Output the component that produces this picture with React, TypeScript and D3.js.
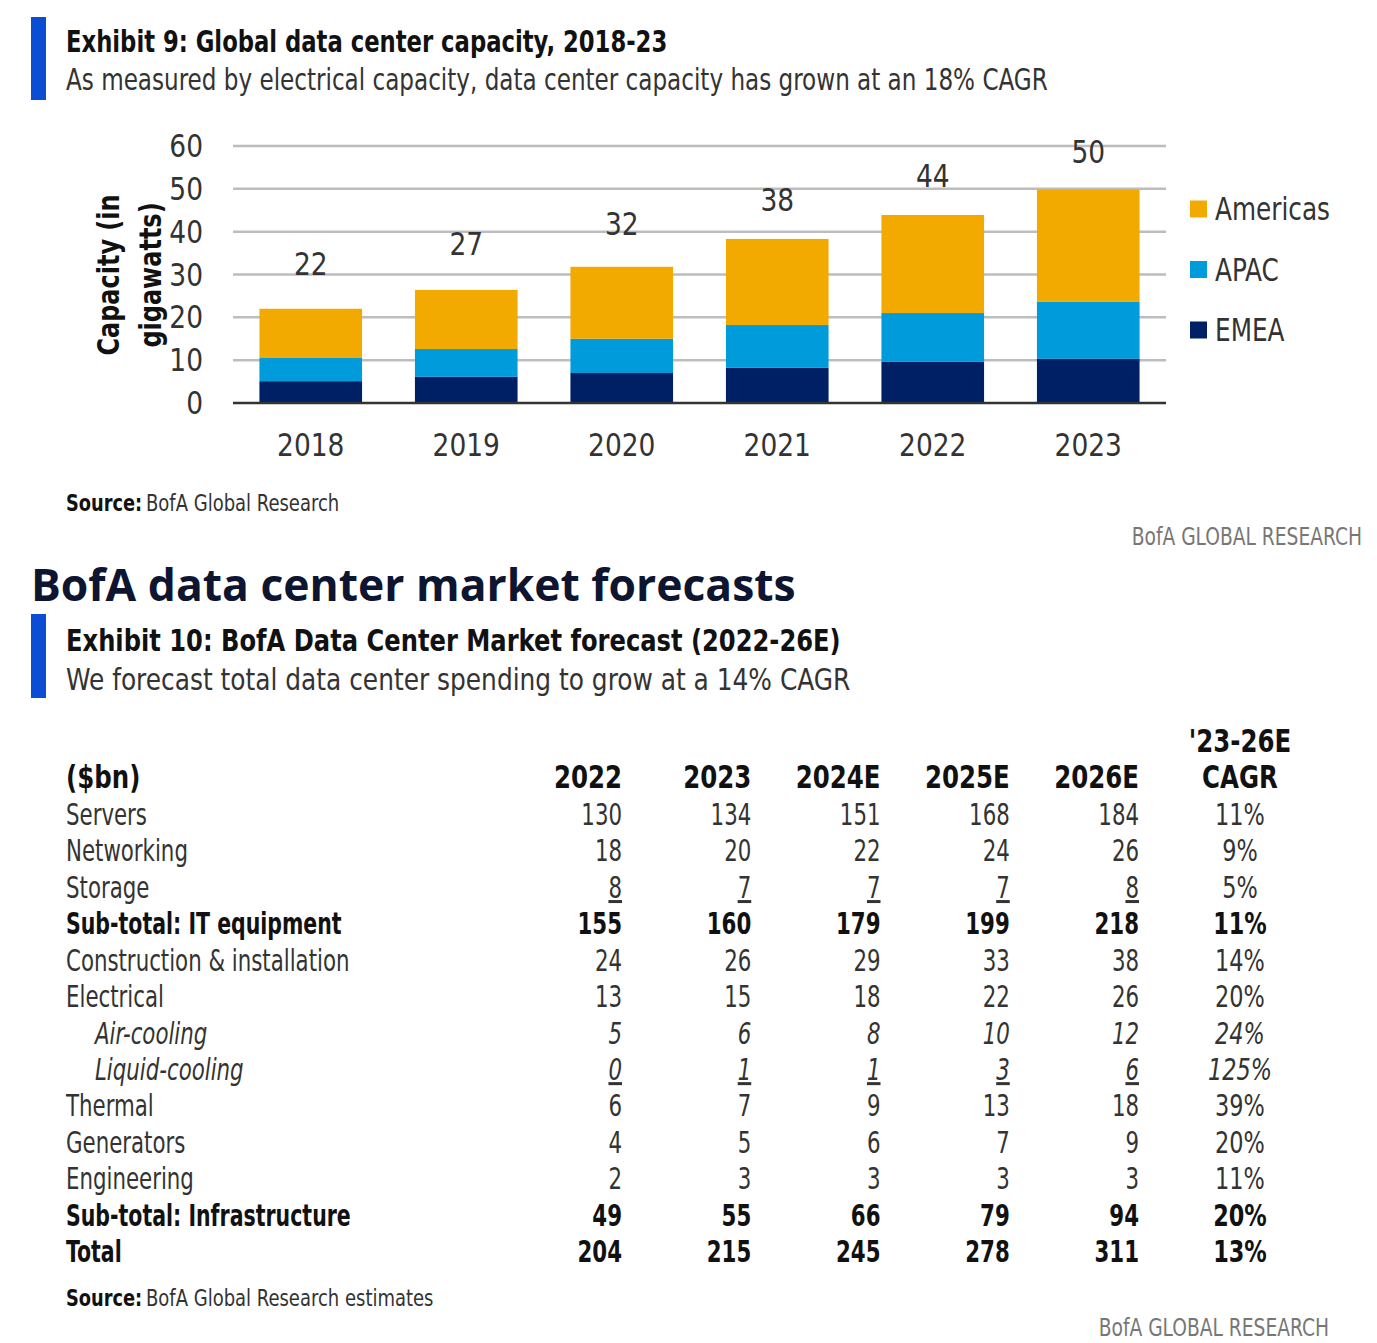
import * as d3 from "d3";

const W = 1377;
const H = 1343;

// ---- exhibit 9 data ----
const years = ["2018", "2019", "2020", "2021", "2022", "2023"];
const emea = [5.1, 6.1, 7.0, 8.2, 9.6, 10.3];
const apac = [5.4, 6.5, 8.0, 10.0, 11.4, 13.3];
const americas = [11.5, 13.8, 16.8, 20.1, 22.9, 26.2];
const totals = [22, 27, 32, 38, 44, 50];
const yTicks = [0, 10, 20, 30, 40, 50, 60];
const regions = ["EMEA", "APAC", "Americas"];
const legendOrder = ["Americas", "APAC", "EMEA"];

// ---- exhibit 10 data ----
const columns = ["2022", "2023", "2024E", "2025E", "2026E"];
const rowLabels = [
  "Servers",
  "Networking",
  "Storage",
  "Sub-total: IT equipment",
  "Construction & installation",
  "Electrical",
  "Air-cooling",
  "Liquid-cooling",
  "Thermal",
  "Generators",
  "Engineering",
  "Sub-total: Infrastructure",
  "Total",
];
const v2022 = [130, 18, 8, 155, 24, 13, 5, 0, 6, 4, 2, 49, 204];
const v2023 = [134, 20, 7, 160, 26, 15, 6, 1, 7, 5, 3, 55, 215];
const v2024 = [151, 22, 7, 179, 29, 18, 8, 1, 9, 6, 3, 66, 245];
const v2025 = [168, 24, 7, 199, 33, 22, 10, 3, 13, 7, 3, 79, 278];
const v2026 = [184, 26, 8, 218, 38, 26, 12, 6, 18, 9, 3, 94, 311];
const cagr = ["11%", "9%", "5%", "11%", "14%", "20%", "24%", "125%", "39%", "20%", "11%", "20%", "13%"];
const boldRows = [3, 11, 12];
const italicRows = [6, 7];
const underlineRows = [2, 7];

const colors: Record<string, string> = {
  Americas: "#f2a900",
  APAC: "#009bdb",
  EMEA: "#002066",
};

const narrow = "'DejaVu Sans Condensed', 'DejaVu Sans', sans-serif";
const blue = "#0b4ed3";

// text squeezed horizontally around its anchor point, to mimic the condensed face
const T = ({ x, y, s = 1, children, ...rest }: any) => (
  <text transform={`translate(${x},${y}) scale(${s},1)`} {...rest}>
    {children}
  </text>
);

const Chart = () => {
  const x = d3.scaleBand<string>().domain(years).range([233, 1166]).paddingInner(0.34).paddingOuter(0.17);
  const y = d3.scaleLinear().domain([0, 60]).range([403, 146]);
  const rows = years.map((yr, i) => ({ year: yr, EMEA: emea[i], APAC: apac[i], Americas: americas[i] }));
  const series = d3.stack<any>().keys(regions)(rows);

  return (
    <g>
      {yTicks.map((t) => (
        <g key={t}>
          {t > 0 && <line x1={233} x2={1166} y1={y(t)} y2={y(t)} stroke="#bdbdbd" strokeWidth={2.5} />}
          <T x={203} y={y(t) + 11} s={0.92} textAnchor="end" fontSize={32} fill="#333">
            {t}
          </T>
        </g>
      ))}
      {series.map((s) => (
        <g key={s.key} fill={colors[s.key]}>
          {s.map((d, i) => (
            <rect key={i} x={x(years[i])} y={y(d[1])} width={x.bandwidth()} height={y(d[0]) - y(d[1])} />
          ))}
        </g>
      ))}
      <line x1={233} x2={1166} y1={y(0)} y2={y(0)} stroke="#333" strokeWidth={2.5} />
      {years.map((yr, i) => (
        <g key={yr}>
          <T x={x(yr)! + x.bandwidth() / 2} y={456} s={0.92} textAnchor="middle" fontSize={32} fill="#333">
            {yr}
          </T>
          <T
            x={x(yr)! + x.bandwidth() / 2}
            y={y(totals[i]) - 34 + i * 1.6}
            s={0.92}
            textAnchor="middle"
            fontSize={32}
            fill="#333"
          >
            {totals[i]}
          </T>
        </g>
      ))}
      <g transform="translate(122,275) rotate(-90) scale(0.86,1)" fontWeight="bold" fontSize={31} fill="#111" textAnchor="middle">
        <text y={-14} dy="0.35em">Capacity (in</text>
        <text y={28} dy="0.35em">gigawatts)</text>
      </g>
      {legendOrder.map((k, i) => (
        <g key={k} transform={`translate(1190,${209 + i * 60.5})`}>
          <rect x={0} y={-8.5} width={17} height={17} fill={colors[k]} />
          <T x={25} y={11} s={0.86} fontSize={32} fill="#333">
            {k}
          </T>
        </g>
      ))}
    </g>
  );
};

const Table = () => {
  const colX = d3.scalePoint<string>().domain(columns).range([622, 1139]);
  const rowY = d3.scalePoint<number>().domain(d3.range(rowLabels.length)).range([825, 1262]);
  const cols = [v2022, v2023, v2024, v2025, v2026];
  const cagrX = 1240;
  const sx = 0.79;
  const hx = 0.85;

  return (
    <g fontSize={30} fill="#333">
      <g fontWeight="bold" fill="#111" fontSize={32}>
        <T x={cagrX} y={752} s={hx} textAnchor="middle">
          '23-26E
        </T>
        <T x={66} y={788} s={hx}>
          ($bn)
        </T>
        {columns.map((c) => (
          <T key={c} x={colX(c)} y={788} s={hx} textAnchor="end">
            {c}
          </T>
        ))}
        <T x={cagrX} y={788} s={hx} textAnchor="middle">
          CAGR
        </T>
      </g>
      {rowLabels.map((label, r) => {
        const bold = boldRows.includes(r);
        const italic = italicRows.includes(r);
        const under = underlineRows.includes(r);
        const yy = rowY(r)!;
        return (
          <g
            key={label}
            fontWeight={bold ? "bold" : "normal"}
            fontStyle={italic ? "italic" : "normal"}
            fill={bold ? "#111" : "#333"}
          >
            <T x={italic ? 95 : 66} y={yy} s={bold ? 0.76 : 0.79}>
              {label}
            </T>
            {cols.map((vals, ci) => (
              <T
                key={ci}
                x={colX(columns[ci])}
                y={yy}
                s={sx}
                textAnchor="end"
                textDecoration={under ? "underline" : undefined}
              >
                {vals[r]}
              </T>
            ))}
            <T x={cagrX} y={yy} s={0.83} textAnchor="middle">
              {cagr[r]}
            </T>
          </g>
        );
      })}
    </g>
  );
};

const Source = ({ y, text }: { y: number; text: string }) => (
  <g fontSize={23}>
    <T x={66} y={y} s={0.86} fontWeight="bold" fill="#111">
      Source:
    </T>
    <T x={146} y={y} s={0.87} fill="#333">
      {text}
    </T>
  </g>
);

export default function App() {
  return (
    <svg
      width={W}
      height={H}
      viewBox={`0 0 ${W} ${H}`}
      style={{ position: "absolute", left: 0, top: 0, background: "#fff" }}
      fontFamily={narrow}
    >
      <rect width={W} height={H} fill="#fff" />
      {/* exhibit 9 header */}
      <rect x={31} y={17} width={15} height={83} fill={blue} />
      <T x={66} y={52} s={0.842} fontSize={30} fontWeight="bold" fill="#111">
        Exhibit 9: Global data center capacity, 2018-23
      </T>
      <T x={66} y={90} s={0.856} fontSize={30} fill="#333">
        As measured by electrical capacity, data center capacity has grown at an 18% CAGR
      </T>
      <Chart />
      <Source y={511} text="BofA Global Research" />
      <T x={1362} y={545} s={0.865} fontSize={24} fill="#777" textAnchor="end">
        BofA GLOBAL RESEARCH
      </T>

      {/* section title */}
      <T x={31} y={601} s={1.01} fontSize={44} fontWeight="bold" fill="#0d1530" fontFamily="'Open Sans', 'DejaVu Sans', sans-serif">
        BofA data center market forecasts
      </T>

      {/* exhibit 10 header */}
      <rect x={31} y={614} width={15} height={84} fill={blue} />
      <T x={66} y={651} s={0.897} fontSize={30} fontWeight="bold" fill="#111">
        Exhibit 10: BofA Data Center Market forecast (2022-26E)
      </T>
      <T x={66} y={690} s={0.892} fontSize={31} fill="#333">
        We forecast total data center spending to grow at a 14% CAGR
      </T>
      <Table />
      <Source y={1306} text="BofA Global Research estimates" />
      <T x={1329} y={1336} s={0.865} fontSize={24} fill="#777" textAnchor="end">
        BofA GLOBAL RESEARCH
      </T>
    </svg>
  );
}
